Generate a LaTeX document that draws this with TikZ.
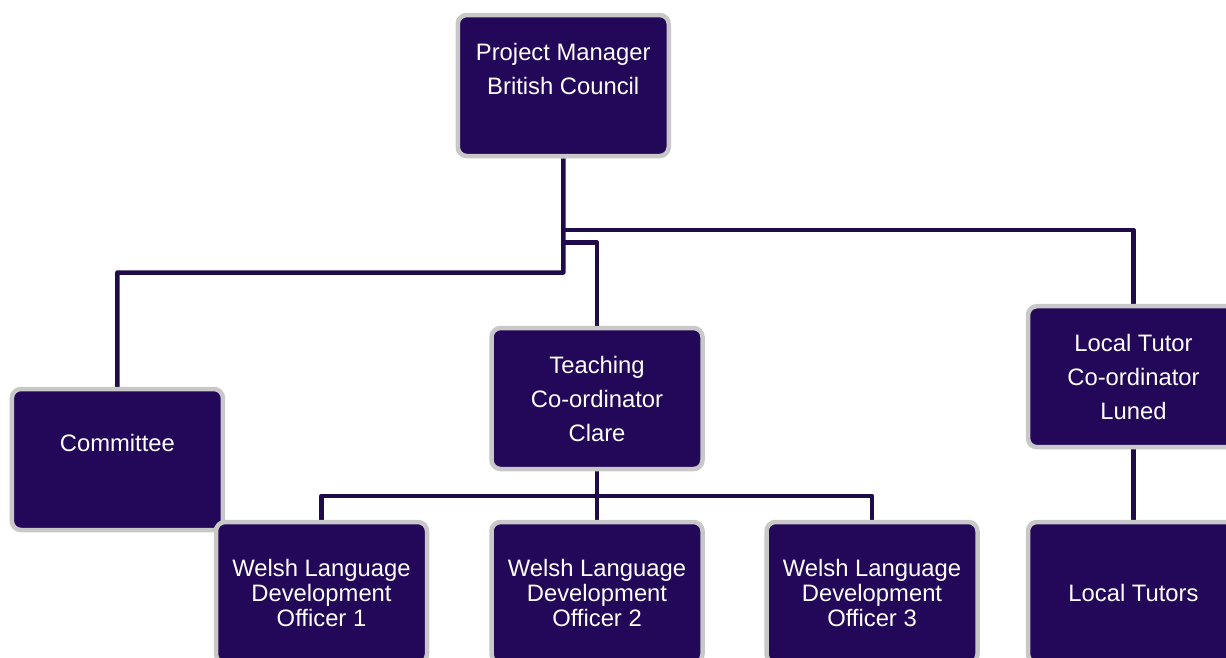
\documentclass[tikz,border=0pt]{standalone}
\usepackage{fontspec}
\setmainfont{Liberation Sans}
\usetikzlibrary{backgrounds}
\definecolor{boxfill}{HTML}{230859}
\definecolor{boxedge}{HTML}{C8C8C8}
\definecolor{linkcol}{HTML}{1F0A4A}
\tikzset{
  orgbox/.style={draw=boxedge, line width=4.5pt, fill=boxfill, rounded corners=9pt,
    minimum width=211pt, minimum height=141pt, inner sep=0pt, text=white,
    align=center, font=\fontsize{23.8}{34}\selectfont},
  tightbox/.style={orgbox, font=\fontsize{23.8}{25}\selectfont},
  link/.style={draw=linkcol, line width=4.5pt, line join=round}
}
\begin{document}
\begin{tikzpicture}[x=1pt,y=-1pt]
\useasboundingbox (0,0) rectangle (1226,657);
\node[orgbox] (pm) at (563.25,85.5) {Project Manager\\British Council\\~};
\node[orgbox] (com) at (117.4,459.5) {Committee\\~};
\node[orgbox] (tc) at (597,398.5) {Teaching\\Co-ordinator\\Clare};
\node[orgbox] (ltc) at (1133.5,376.7) {Local Tutor\\Co-ordinator\\Luned};
\node[tightbox] (w1) at (321.5,592.5) {Welsh Language\\Development\\Officer 1};
\node[tightbox] (w2) at (597,592.5) {Welsh Language\\Development\\Officer 2};
\node[tightbox] (w3) at (872,592.5) {Welsh Language\\Development\\Officer 3};
\node[orgbox] (lt) at (1133.5,592.5) {Local Tutors};
\begin{scope}[on background layer]
\coordinate (j1) at (563.3,272.5);
\draw[link] (pm.south) -- (j1) -| (com.north);
\draw[link] (563.3,230) -| (ltc.north);
\draw[link] (563.3,242.5) -| (tc.north);
\draw[link] (tc.south) -- (597,496) -| (w1.north);
\draw[link] (597,496) -| (w3.north);
\draw[link] (tc.south) -- (w2.north);
\draw[link] (ltc.south) -- (lt.north);
\end{scope}
\end{tikzpicture}
\end{document}
